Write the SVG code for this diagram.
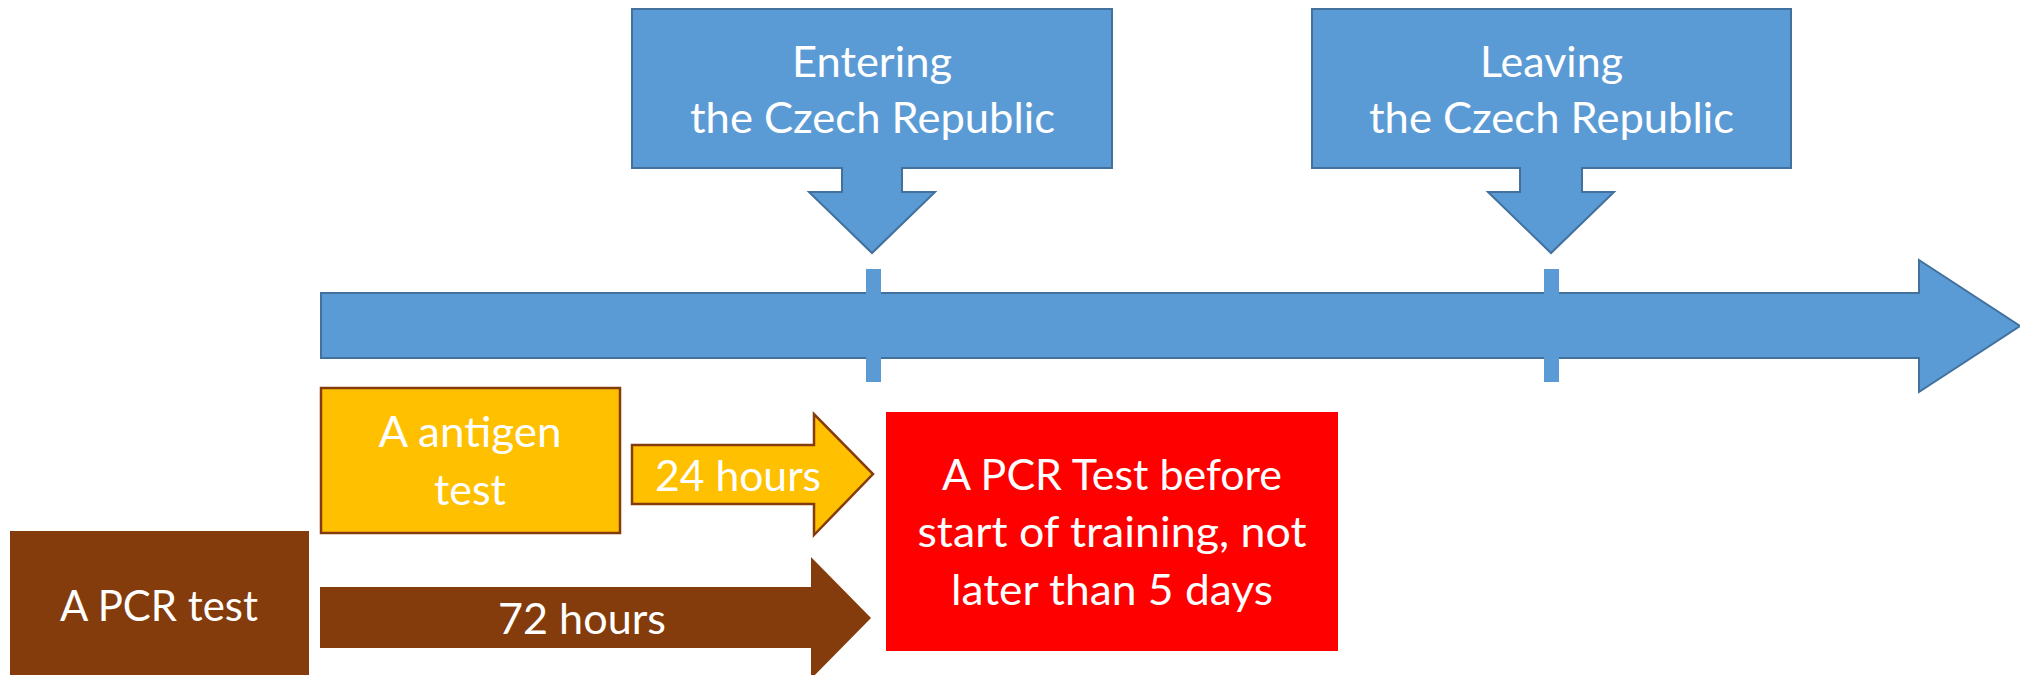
<svg xmlns="http://www.w3.org/2000/svg" width="2020" height="675" viewBox="0 0 2020 675">
<style>
.blue{fill:#5B9BD5;stroke:#41719C;stroke-width:2;stroke-linejoin:miter}
.tick{fill:#5B9BD5;stroke:none}
.amber{fill:#FFC000;stroke:#843C0C;stroke-width:2.5}
.brown{fill:#843C0C;stroke:none}
.red{fill:#FF0000;stroke:none}
text{font-family:Lato,"Open Sans","Liberation Sans",sans-serif;font-size:42px;fill:#FFFFFF;text-anchor:middle}
</style>
<rect width="2020" height="675" fill="#FFFFFF"/>
<g id="timeline">
<polygon class="blue" points="321,293 1919,293 1919,260 2020,326 1919,392 1919,358 321,358"/>
</g>
<g id="entering">
<polygon class="blue" points="632,9 1112,9 1112,168 902,168 902,192 935,192 872,253 809,192 842,192 842,168 632,168"/>
<text x="872" y="77" textLength="160" lengthAdjust="spacingAndGlyphs">Entering</text>
<text x="872.5" y="133" textLength="365" lengthAdjust="spacingAndGlyphs">the Czech Republic</text>
</g>
<g id="leaving">
<polygon class="blue" points="1312,9 1791,9 1791,168 1582,168 1582,192 1614,192 1551,253 1488,192 1520,192 1520,168 1312,168"/>
<text x="1551.5" y="77" textLength="143" lengthAdjust="spacingAndGlyphs">Leaving</text>
<text x="1551.5" y="133" textLength="365" lengthAdjust="spacingAndGlyphs">the Czech Republic</text>
</g>
<g id="ticks">
<rect class="tick" x="866" y="269" width="15" height="113"/>
<rect class="tick" x="1544" y="269" width="15" height="113"/>
</g>
<g id="antigen">
<rect class="amber" x="321" y="388" width="299" height="145"/>
<text x="470" y="447" textLength="183" lengthAdjust="spacingAndGlyphs">A antigen</text>
<text x="470" y="505" textLength="72" lengthAdjust="spacingAndGlyphs">test</text>
</g>
<g id="pcr">
<rect class="brown" x="10" y="531" width="299" height="150"/>
<text x="159" y="621" textLength="198" lengthAdjust="spacingAndGlyphs">A PCR test</text>
</g>
<g id="connectors">
<g id="h24">
<polygon class="amber" points="632,445 814,445 814,414 873,474 814,535 814,504 632,504"/>
<text x="738" y="491" textLength="166" lengthAdjust="spacingAndGlyphs">24 hours</text>
</g>
<g id="h72">
<polygon class="brown" points="320,587 811,587 811,557 871,618 811,679 811,648 320,648"/>
<text x="582" y="634" textLength="168" lengthAdjust="spacingAndGlyphs">72 hours</text>
</g>
</g>
<g id="pcr-before">
<rect class="red" x="886" y="412" width="452" height="239"/>
<text x="1112" y="490" textLength="340" lengthAdjust="spacingAndGlyphs">A PCR Test before</text>
<text x="1112" y="547" textLength="389" lengthAdjust="spacingAndGlyphs">start of training, not</text>
<text x="1112" y="605" textLength="322" lengthAdjust="spacingAndGlyphs">later than 5 days</text>
</g>
</svg>
